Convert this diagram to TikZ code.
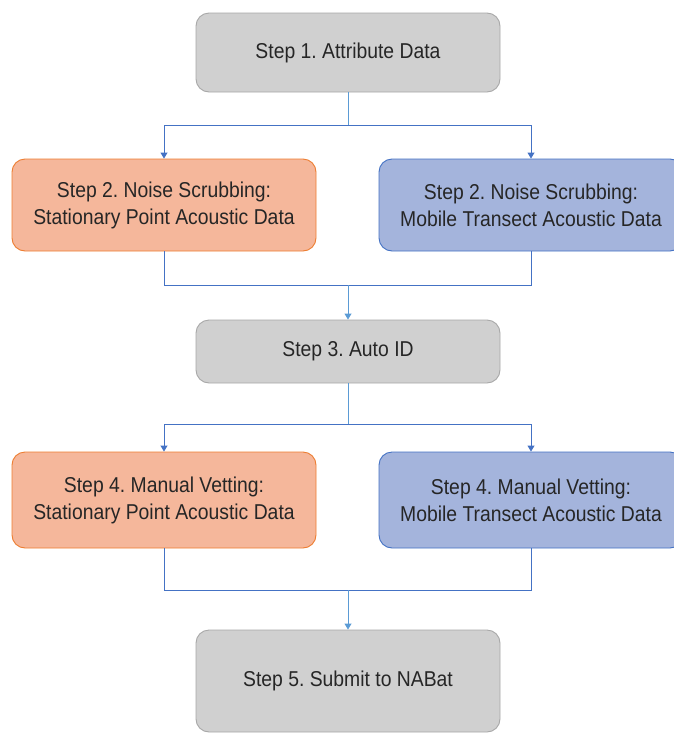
\documentclass[tikz,border=0pt]{standalone}
\usepackage{fontspec}
\setmainfont{Liberation Sans}[FakeStretch=0.9]
\frenchspacing
\usetikzlibrary{arrows.meta}
\definecolor{grayfill}{HTML}{D0D0D0}
\definecolor{grayline}{HTML}{A8A8A8}
\definecolor{orfill}{HTML}{F5B79B}
\definecolor{orline}{HTML}{ED7D31}
\definecolor{blfill}{HTML}{A4B4DC}
\definecolor{blline}{HTML}{4472C4}
\definecolor{lightblue}{HTML}{5B9BD5}
\definecolor{txt}{HTML}{262626}
\tikzset{
  box/.style={rounded corners=13pt, minimum width=304pt, align=center, inner sep=0pt,
    font=\fontsize{21.5}{27}\selectfont, text=txt, line width=0.9pt},
  graybox/.style={box, fill=grayfill, draw=grayline},
  orbox/.style={box, fill=orfill, draw=orline},
  blbox/.style={box, fill=blfill, draw=blline},
  conn/.style={draw=blline, line width=0.9pt},
  stem/.style={draw=lightblue, line width=0.9pt},
  arr/.style={-{Triangle[length=6pt,width=7pt]}}
}
\begin{document}
\begin{tikzpicture}[x=1pt,y=-1pt]
\useasboundingbox (0,0) rectangle (674,734);
\clip (0,0) rectangle (674,734);
\node[graybox, minimum height=79pt] (b1) at (348,52.5) {Step 1. Attribute Data};
\node[orbox, minimum height=92pt] (b2l) at (164,205) {Step 2. Noise Scrubbing:\\Stationary Point Acoustic Data};
\node[blbox, minimum height=92pt] (b2r) at (531,205) {Step 2. Noise Scrubbing:\\Mobile Transect Acoustic Data};
\node[graybox, minimum height=63pt] (b3) at (348,351.5) {Step 3. Auto ID};
\node[orbox, minimum height=96pt] (b4l) at (164,500) {Step 4. Manual Vetting:\\Stationary Point Acoustic Data};
\node[blbox, minimum height=96pt] (b4r) at (531,500) {Step 4. Manual Vetting:\\Mobile Transect Acoustic Data};
\node[graybox, minimum height=102pt] (b5) at (348,681) {Step 5. Submit to NABat};
\coordinate (j1) at (348,125);
\coordinate (j2) at (348,285);
\coordinate (j3) at (348,424);
\coordinate (j4) at (348,590);
% stage 1 -> 2
\draw[stem] (b1.south) -- (j1);
\draw[conn, arr] (j1) -| (b2l.north);
\draw[conn, arr] (j1) -| (b2r.north);
% stage 2 -> 3
\draw[conn] (b2l.south) |- (j2);
\draw[conn] (b2r.south) |- (j2);
\draw[stem, arr] (j2) -- (b3.north);
% stage 3 -> 4
\draw[stem] (b3.south) -- (j3);
\draw[conn, arr] (j3) -| (b4l.north);
\draw[conn, arr] (j3) -| (b4r.north);
% stage 4 -> 5
\draw[conn] (b4l.south) |- (j4);
\draw[conn] (b4r.south) |- (j4);
\draw[stem, arr] (j4) -- (b5.north);
\end{tikzpicture}
\end{document}
